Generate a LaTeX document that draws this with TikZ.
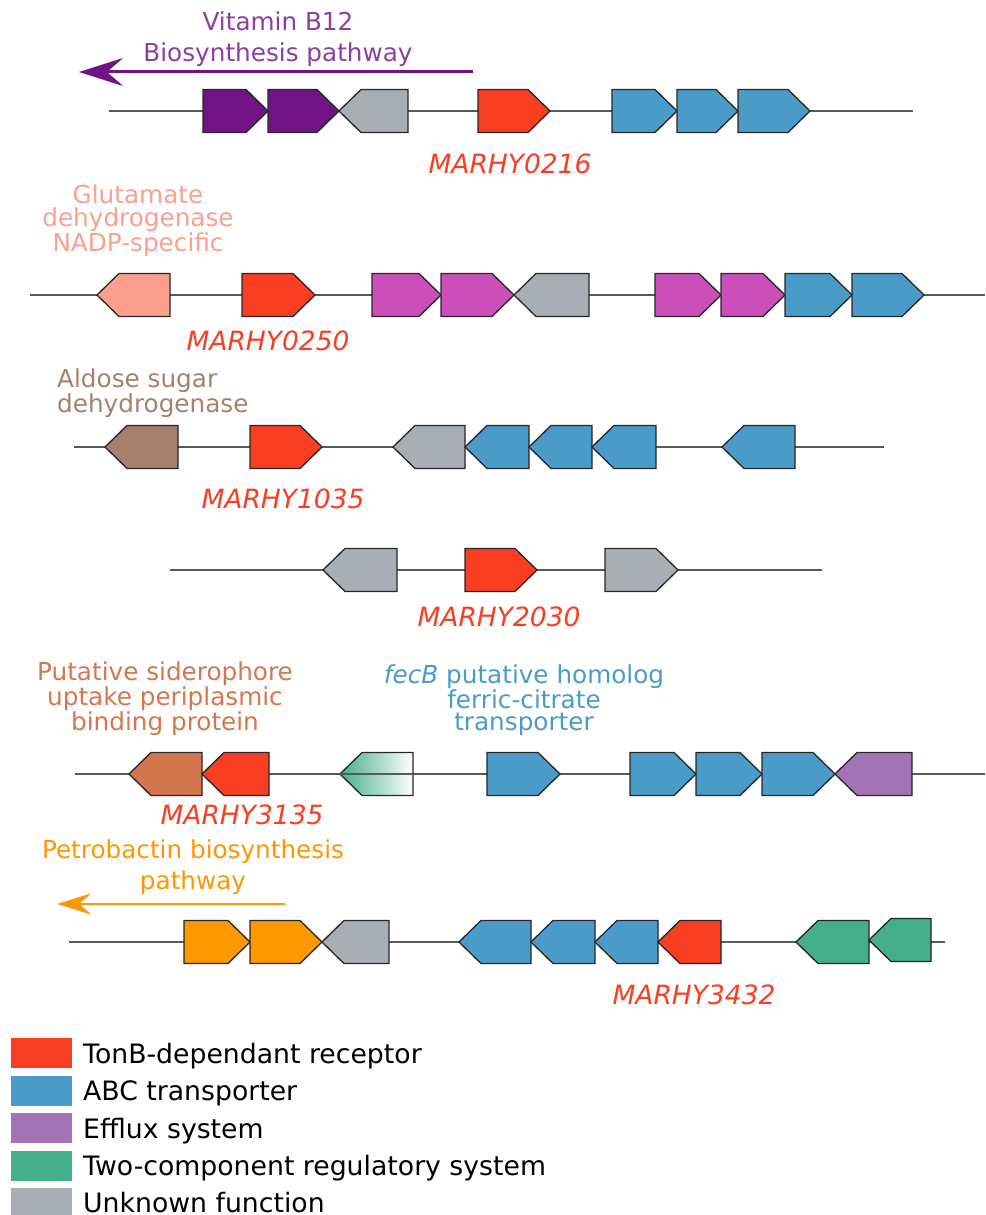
\documentclass[tikz,border=0pt]{standalone}
\usepackage{fontspec}
\setmainfont{DejaVu Sans}
\usetikzlibrary{arrows.meta}
\definecolor{tonb}{HTML}{F93E21}
\definecolor{abc}{HTML}{4A9BC8}
\definecolor{efflux}{HTML}{A374B5}
\definecolor{twocomp}{HTML}{45AF8B}
\definecolor{unknown}{HTML}{A9ADB4}
\definecolor{vitb}{HTML}{701385}
\definecolor{vittext}{HTML}{8B3FA0}
\definecolor{magenta}{HTML}{CC4FB9}
\definecolor{salmon}{HTML}{FC9F8E}
\definecolor{aldose}{HTML}{A6806C}
\definecolor{sidero}{HTML}{D4774E}
\definecolor{petro}{HTML}{FF9700}
\newcommand{\gfw}[4]{\path[gene,#4] (#1,#3-21.5) -- (#2-22,#3-21.5) -- (#2,#3) -- (#2-22,#3+21.5) -- (#1,#3+21.5) -- cycle;}
\newcommand{\grv}[4]{\path[gene,#4] (#2,#3-21.5) -- (#1+22,#3-21.5) -- (#1,#3) -- (#1+22,#3+21.5) -- (#2,#3+21.5) -- cycle;}
\tikzset{
  gene/.style={draw=black!85,line width=1.3pt,line join=miter},
  backbone/.style={draw=black!65,line width=1.8pt},
  lbl/.style={inner sep=0pt,anchor=base,align=center},
  tag/.style={inner sep=0pt,anchor=base,text=tonb,font=\fontsize{26.5}{26.5}\selectfont\itshape},
  key/.style={inner sep=0pt,anchor=base west,font=\fontsize{26.7}{26.7}\selectfont}
}
\begin{document}
\begin{tikzpicture}[x=1pt,y=-1pt,>=Stealth]
  \useasboundingbox (0,0) rectangle (985,1215);
  % row 1
  \node[lbl,text=vittext,font=\fontsize{24.7}{31}\selectfont] (vitlbl) at (278,62) {Vitamin B12\\Biosynthesis pathway};
  \coordinate (vitS) at (473,72);
  \coordinate (vitE) at (79,72);
  \draw[vitb,line width=3pt,-{Stealth[length=44pt,width=28pt,inset=16pt]}] (vitS) -- (vitE);
  \draw[backbone] (109,111) -- (913,111);
  \gfw{203}{268}{111}{fill=vitb}
  \gfw{268}{339}{111}{fill=vitb}
  \grv{339}{408}{111}{fill=unknown}
  \gfw{478}{550}{111}{fill=tonb}
  \gfw{612}{677}{111}{fill=abc}
  \gfw{677}{738}{111}{fill=abc}
  \gfw{738}{810}{111}{fill=abc}
  \node[tag] (t0216) at (510,173) {MARHY0216};
  % row 2
  \node[lbl,text=salmon,font=\fontsize{24.7}{23}\selectfont] (glulbl) at (138,251) {Glutamate\\dehydrogenase\\NADP-specific};
  \draw[backbone] (30,295) -- (985,295);
  \grv{97}{170}{295}{fill=salmon}
  \gfw{242}{315}{295}{fill=tonb}
  \gfw{372}{441}{295}{fill=magenta}
  \gfw{441}{514}{295}{fill=magenta}
  \grv{514}{589}{295}{fill=unknown}
  \gfw{655}{721}{295}{fill=magenta}
  \gfw{721}{785}{295}{fill=magenta}
  \gfw{785}{852}{295}{fill=abc}
  \gfw{852}{924}{295}{fill=abc}
  \node[tag] (t0250) at (268,350) {MARHY0250};
  % row 3
  \node[lbl,anchor=base west,align=left,text=aldose,font=\fontsize{24.7}{21}\selectfont] (aldlbl) at (57,412) {Aldose sugar\\dehydrogenase};
  \draw[backbone] (74,447) -- (884,447);
  \grv{105}{178}{447}{fill=aldose}
  \gfw{250}{322}{447}{fill=tonb}
  \grv{393}{465}{447}{fill=unknown}
  \grv{465}{529}{447}{fill=abc}
  \grv{529}{592}{447}{fill=abc}
  \grv{592}{656}{447}{fill=abc}
  \grv{722}{795}{447}{fill=abc}
  \node[tag] (t1035) at (283,508) {MARHY1035};
  % row 4
  \draw[backbone] (170,570) -- (822,570);
  \grv{323}{397}{570}{fill=unknown}
  \gfw{465}{537}{570}{fill=tonb}
  \gfw{605}{678}{570}{fill=unknown}
  \node[tag] (t2030) at (499,626) {MARHY2030};
  % row 5
  \node[lbl,text=sidero,font=\fontsize{24.7}{21.5}\selectfont] (sidlbl) at (165,730) {Putative siderophore\\uptake periplasmic\\binding protein};
  \node[lbl,text=abc,font=\fontsize{24.7}{21.5}\selectfont] (feclbl) at (524,730) {\textit{fecB} putative homolog\\ferric-citrate\\transporter};
  \draw[backbone] (75,774) -- (985,774);
  \grv{129}{202}{774}{fill=sidero}
  \grv{202}{269}{774}{fill=tonb}
  \grv{340}{413}{774}{left color=twocomp,right color=white}
  \draw[backbone] (340,774) -- (413,774);
  \gfw{487}{560}{774}{fill=abc}
  \gfw{630}{696}{774}{fill=abc}
  \gfw{696}{762}{774}{fill=abc}
  \gfw{762}{835}{774}{fill=abc}
  \grv{835}{912}{774}{fill=efflux}
  \node[tag] (t3135) at (242,824) {MARHY3135};
  % row 6
  \node[lbl,text=petro,font=\fontsize{24.7}{31}\selectfont] (petlbl) at (193,889) {Petrobactin biosynthesis\\pathway};
  \coordinate (petS) at (285,904);
  \coordinate (petE) at (57,904);
  \draw[petro,line width=2.4pt,-{Stealth[length=34pt,width=21pt,inset=12pt]}] (petS) -- (petE);
  \draw[backbone] (69,942) -- (945,942);
  \gfw{184}{250}{942}{fill=petro}
  \gfw{250}{322}{942}{fill=petro}
  \grv{322}{389}{942}{fill=unknown}
  \grv{459}{531}{942}{fill=abc}
  \grv{531}{595}{942}{fill=abc}
  \grv{595}{658}{942}{fill=abc}
  \grv{658}{721}{942}{fill=tonb}
  \grv{796}{869}{942}{fill=twocomp}
  \grv{869}{931}{940}{fill=twocomp}
  \node[tag] (t3432) at (694,1004) {MARHY3432};
  % legend
  \fill[tonb] (11,1038) rectangle (72,1068);
  \fill[abc] (11,1075.5) rectangle (72,1105.5);
  \fill[efflux] (11,1113) rectangle (72,1143);
  \fill[twocomp] (11,1150.5) rectangle (72,1180.5);
  \fill[unknown] (11,1188) rectangle (72,1218);
  \node[key] (k1) at (83,1063) {TonB-dependant receptor};
  \node[key] (k2) at (83,1100.5) {ABC transporter};
  \node[key] (k3) at (83,1138) {Efflux system};
  \node[key] (k4) at (83,1175.5) {Two-component regulatory system};
  \node[key] (k5) at (83,1212) {Unknown function};
\end{tikzpicture}
\end{document}
